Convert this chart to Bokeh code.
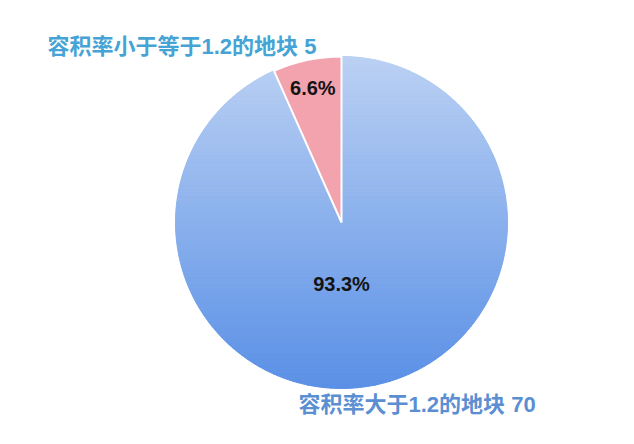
import numpy as np
from bokeh.plotting import figure
from bokeh.models import Range1d, ColumnDataSource
from bokeh.core.properties import value
from bokeh.embed import file_html
from bokeh.resources import INLINE

# ---- data ----
categories = ["容积率小于等于1.2的地块", "容积率大于1.2的地块"]
counts = [5, 70]
pct_labels = ["6.6%", "93.3%"]

# ---- layout ----
W, H = 618, 428
p = figure(width=W, height=H, x_range=Range1d(0, 618), y_range=Range1d(16, 444),
           output_backend="svg", toolbar_location=None, min_border=0)
p.axis.visible = False
p.grid.visible = False
p.outline_line_color = None
p.background_fill_color = "white"
p.border_fill_color = "white"

cx, cy, r = 341.0, 222.0, 166.0
total = float(sum(counts))
fracs = [c / total for c in counts]
angles = np.cumsum([0.0] + [f * 2 * np.pi for f in fracs])
start = np.pi / 2 + angles[:-1]
end = np.pi / 2 + angles[1:]

CJK = value("'Liberation Sans', 'Noto Sans CJK SC'")

# blue slice base (data-driven wedge)
p.wedge(x=[cx], y=[cy], radius=[r], start_angle=[start[1]], end_angle=[end[1]],
        fill_color="#8DB2EC", line_color=None)

# vertical gradient inside the blue slice: clip horizontal bands to the sector
def clip_half(poly, y0, above):
    out = []
    n = len(poly)
    for i in range(n):
        a = poly[i]; b = poly[(i + 1) % n]
        ina = a[1] >= y0 if above else a[1] <= y0
        inb = b[1] >= y0 if above else b[1] <= y0
        if ina:
            out.append(a)
        if ina != inb:
            t = (y0 - a[1]) / (b[1] - a[1])
            out.append((a[0] + t * (b[0] - a[0]), y0))
    return out

th = np.linspace(start[1], end[1], 500)
sector = [(cx, cy)] + [(cx + r * np.cos(t), cy + r * np.sin(t)) for t in th]

top_rgb = np.array([0xBB, 0xD1, 0xF3])
bot_rgb = np.array([0x5A, 0x90, 0xE6])
nb = 90
edges = np.linspace(cy + r, cy - r, nb + 1)
xs, ys, cols = [], [], []
for i in range(nb):
    y_hi, y_lo = edges[i], edges[i + 1]
    poly = clip_half(clip_half(sector, y_lo, True), y_hi, False)
    if len(poly) < 3:
        continue
    tt = (i + 0.5) / nb
    c = top_rgb + (bot_rgb - top_rgb) * tt
    cols.append("#%02x%02x%02x" % tuple(int(round(v)) for v in c))
    xs.append([q[0] for q in poly]); ys.append([q[1] for q in poly])
p.patches(xs=xs, ys=ys, fill_color=cols, line_color=cols, line_width=1)

# red slice
p.wedge(x=[cx], y=[cy], radius=[r], start_angle=[start[0]], end_angle=[end[0]],
        fill_color="#F2A3AE", line_color="white", line_width=2)

# percentage labels
mid0 = (start[0] + end[0]) / 2
lab = ColumnDataSource(dict(
    x=[cx + 0.83 * r * np.cos(mid0), cx],
    y=[cy + 0.83 * r * np.sin(mid0), cy - 61],
    t=pct_labels))
p.text(x="x", y="y", text="t", source=lab, text_font=value("Liberation Sans"),
       text_font_style="bold", text_font_size="20px", text_color="#141414",
       text_align="center", text_baseline="middle")

# category labels
p.text(x=[47], y=[398], text=[f"{categories[0]} {counts[0]}"], text_font=CJK,
       text_font_style="bold", text_font_size="22px", text_color="#45A3D5",
       text_align="left", text_baseline="middle")
p.text(x=[298], y=[40], text=[f"{categories[1]} {counts[1]}"], text_font=CJK,
       text_font_style="bold", text_font_size="22px", text_color="#5B8FD2",
       text_align="left", text_baseline="middle")

open("out.html", "w").write(file_html(p, INLINE))
